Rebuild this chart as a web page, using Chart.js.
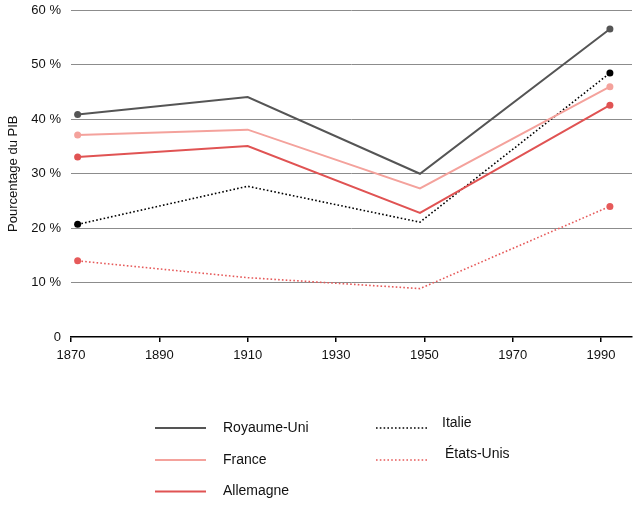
<!DOCTYPE html>
<html lang="fr">
<head>
<meta charset="utf-8">
<title>Dépenses publiques en pourcentage du PIB</title>
<script src="https://cdn.jsdelivr.net/npm/chart.js@4.4.1/dist/chart.umd.min.js"></script>
<style>
  html, body { margin: 0; padding: 0; background: #fff; }
  #wrap { position: relative; width: 644px; height: 509px; }
</style>
</head>
<body>
<div id="wrap"><canvas id="chart"></canvas></div>
<script>
// valeurs (% du PIB)
const years = [1871.5, 1910, 1949, 1992];
const royaumeUni = [40.9, 44.1, 30.0, 56.6];
const france = [37.1, 38.1, 27.3, 46.0];
const allemagne = [33.1, 35.1, 22.8, 42.6];
const italie = [20.7, 27.7, 21.1, 48.5];
const etatsUnis = [14.0, 10.9, 8.9, 24.0];

const seriesNames = ["Royaume-Uni", "France", "Allemagne", "Italie", "États-Unis"];
const xTickYears = [1870, 1890, 1910, 1930, 1950, 1970, 1990];
const yTickValues = [0, 10, 20, 30, 40, 50, 60];
const yTitle = "Pourcentage du PIB";

const axisFont = "'Liberation Sans', Arial, sans-serif";
const regular = "'Liberation Sans', Arial, sans-serif";

const toPoints = (values) => values.map((v, i) => ({ x: years[i], y: v }));

const endPoints = (ctx) => {
  const last = ctx.dataset.data.length - 1;
  return ctx.dataIndex === 0 || ctx.dataIndex === last ? 3.5 : 0;
};

const makeDataset = (label, values, color, dotted) => ({
  label,
  data: toPoints(values),
  borderColor: color,
  backgroundColor: color,
  borderWidth: dotted ? 1.6 : 2,
  borderDash: dotted ? [1.6, 2.2] : [],
  pointRadius: endPoints,
  pointBorderWidth: 0,
  pointBackgroundColor: color,
  tension: 0,
  fill: false,
});

// légende en deux colonnes sous le graphique
const legendSpots = [
  { x1: 155, x2: 206, y: 428, tx: 223, ty: 428 },
  { x1: 155, x2: 206, y: 460, tx: 223, ty: 460 },
  { x1: 155, x2: 206, y: 491.5, tx: 223, ty: 491 },
  { x1: 376, x2: 428, y: 428, tx: 442, ty: 423 },
  { x1: 376, x2: 428, y: 460, tx: 445, ty: 454 },
];

const bottomLegend = {
  id: "bottomLegend",
  afterDraw(chart) {
    const c = chart.ctx;
    c.save();
    chart.data.datasets.forEach((ds, i) => {
      const spot = legendSpots[i];
      c.beginPath();
      c.strokeStyle = ds.borderColor;
      c.lineWidth = ds.borderDash.length ? 1.4 : 2;
      c.setLineDash(ds.borderDash);
      c.moveTo(spot.x1, spot.y);
      c.lineTo(spot.x2, spot.y);
      c.stroke();
      c.setLineDash([]);
      c.fillStyle = "#111";
      c.font = "14px " + regular;
      c.textBaseline = "middle";
      c.textAlign = "left";
      c.fillText(ds.label, spot.tx, spot.ty);
    });
    c.restore();
  },
};

new Chart(document.getElementById("chart"), {
  type: "line",
  data: {
    datasets: [
      makeDataset(seriesNames[0], royaumeUni, "#555555", false),
      makeDataset(seriesNames[1], france, "#f4a29c", false),
      makeDataset(seriesNames[2], allemagne, "#e05353", false),
      makeDataset(seriesNames[3], italie, "#000000", true),
      makeDataset(seriesNames[4], etatsUnis, "#e65a5a", true),
    ],
  },
  options: {
    responsive: true,
    maintainAspectRatio: false,
    animation: false,
    layout: { padding: { top: 10.5, right: 12, bottom: 142, left: 0 } },
    plugins: {
      legend: { display: false },
      tooltip: { enabled: false },
    },
    scales: {
      x: {
        type: "linear",
        min: 1870,
        max: 1997,
        afterFit: (scale) => {
          scale.height = 30;
          scale.paddingLeft = 0;
          scale.paddingRight = 0;
        },
        afterBuildTicks: (scale) => {
          scale.ticks = xTickYears.map((v) => ({ value: v }));
        },
        ticks: {
          color: "#111",
          font: { family: axisFont, size: 13 },
          padding: 6,
          maxRotation: 0,
          callback: (v) => String(v),
        },
        grid: {
          drawOnChartArea: false,
          drawTicks: true,
          tickLength: 5,
          color: "#000",
          lineWidth: 1.5,
        },
        border: { display: true, color: "#000", width: 1.5 },
      },
      y: {
        min: 0,
        max: 60,
        afterFit: (scale) => {
          scale.width = 71;
          scale.paddingTop = 0;
          scale.paddingBottom = 0;
        },
        afterBuildTicks: (scale) => {
          scale.ticks = yTickValues.map((v) => ({ value: v }));
        },
        title: {
          display: true,
          text: yTitle,
          color: "#111",
          font: { family: axisFont, size: 13 },
          padding: { top: 6, bottom: 0 },
        },
        ticks: {
          color: "#111",
          font: { family: axisFont, size: 13 },
          padding: 10,
          callback: (v) => (v === 0 ? "0" : v + " %"),
        },
        grid: {
          drawTicks: false,
          color: (ctx) => (ctx.tick && ctx.tick.value === 0 ? "rgba(0,0,0,0)" : "#8c8c8c"),
          lineWidth: 1,
        },
        border: { display: false },
      },
    },
  },
  plugins: [bottomLegend],
});
</script>
</body>
</html>
